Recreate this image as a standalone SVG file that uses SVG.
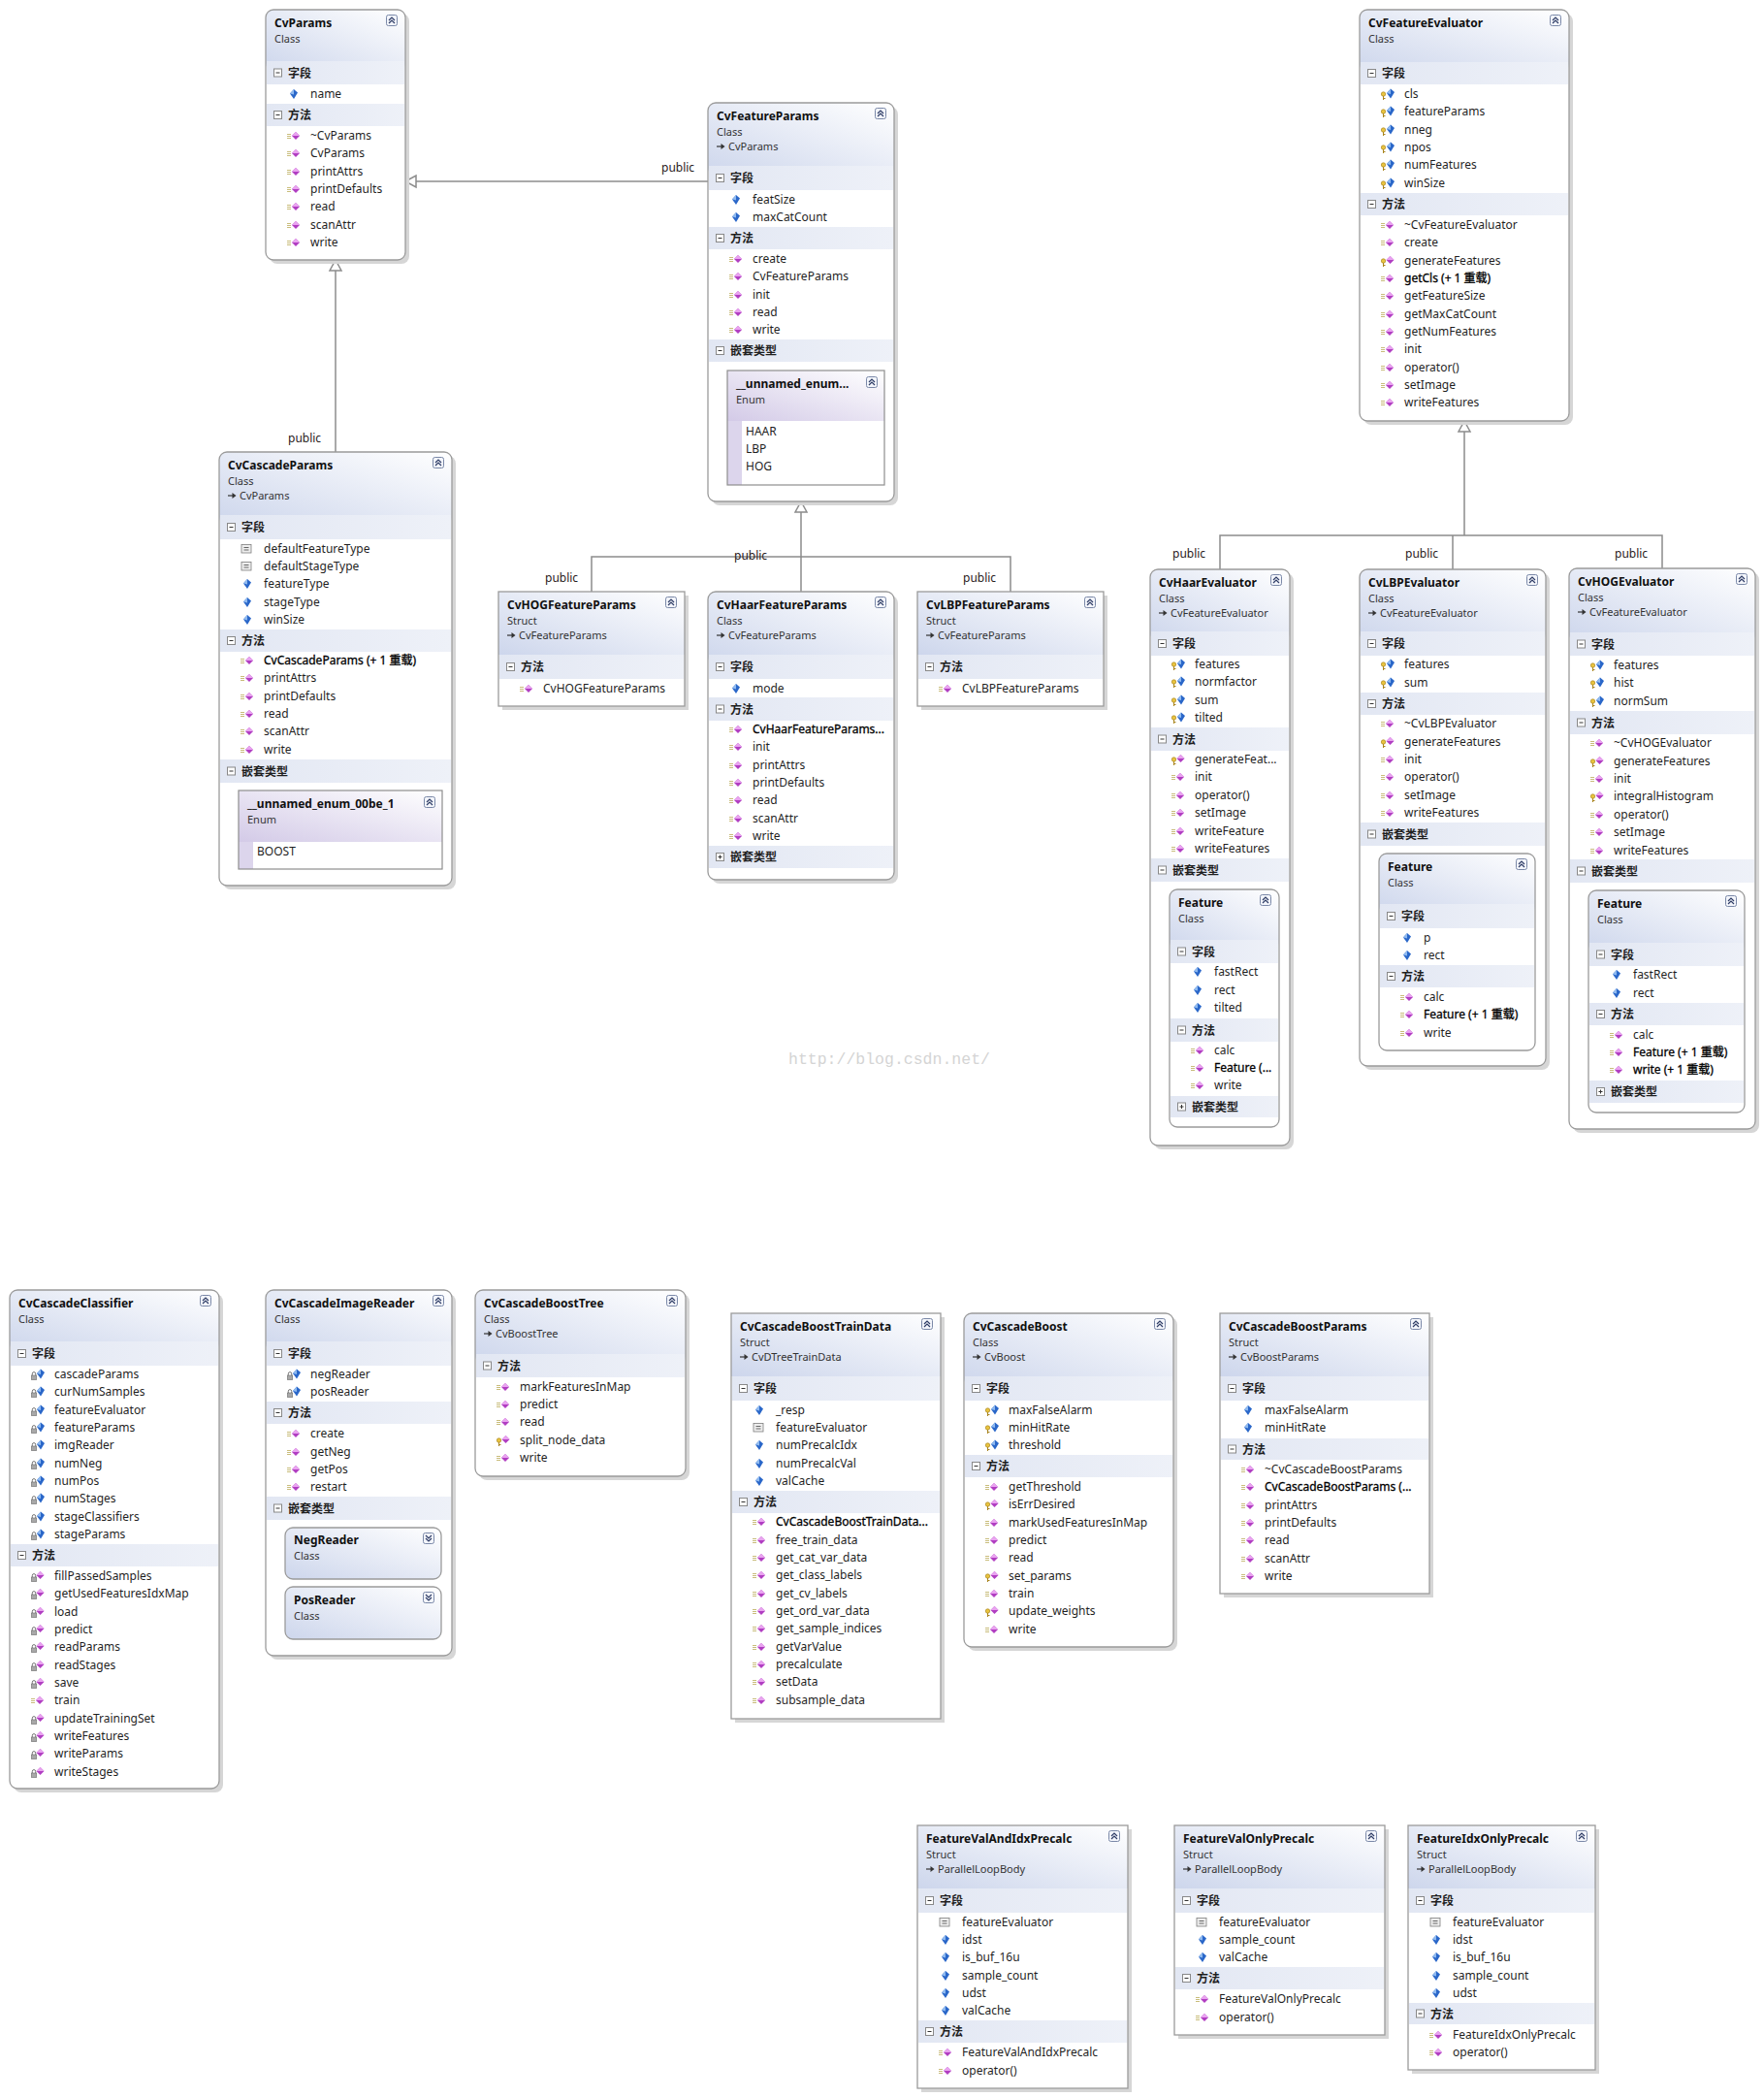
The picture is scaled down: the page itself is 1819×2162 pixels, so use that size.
<svg xmlns="http://www.w3.org/2000/svg" width="1819" height="2162" viewBox="0 0 1819 2162">
<style>
text{font-family:"Noto Sans","Noto Sans CJK SC",sans-serif;font-size:12px;fill:#1f1f1f}
.t{font-weight:bold;fill:#111}
.s{font-size:11px;fill:#333}
.h{font-weight:bold;font-family:"Noto Sans CJK SC","Noto Sans",sans-serif}
.ov{fill:#000;stroke:#000;stroke-width:.3}
.lbl{fill:#2a2020}
.wm{font-family:"Liberation Mono",monospace;font-size:16.5px;fill:#d4d4d4}
.sh{fill:#d6d6d6}
.bg{fill:#fff}
.hd{fill:url(#hg)}
.bd{fill:url(#bdg)}
.bo{fill:none;stroke:#9b9b9b;stroke-width:1.3}
.en{fill:none;stroke:#8e8e8e;stroke-width:1.2}
.eh{fill:url(#eg)}
.es{fill:#dcd5ec}
.cl{fill:url(#hg);stroke:#9b9b9b;stroke-width:1.3}
</style>
<defs>
<linearGradient id="hg" x1="0" y1="1" x2="1" y2="0"><stop offset="0" stop-color="#cdd6ec"/><stop offset="1" stop-color="#ffffff"/></linearGradient>
<linearGradient id="bdg" x1="0" y1="0" x2="1" y2="0"><stop offset="0" stop-color="#e2e7f3"/><stop offset="1" stop-color="#eef1f8"/></linearGradient>
<linearGradient id="eg" x1="0" y1="1" x2="1" y2="0"><stop offset="0" stop-color="#d3cae7"/><stop offset="1" stop-color="#ffffff"/></linearGradient>
<g id="dB"><path d="M0,5 L4,0.5 L8,4 L4,10.5Z" fill="#2a67c9"/><path d="M0,5 L4,0.5 L4,6Z" fill="#8fbaf0"/></g>
<g id="dP"><path d="M0,4.5 L4,0.5 L8,4.5 L4,8.5Z" fill="#b13ec2"/><path d="M0,4.5 L4,0.5 L8,4.5Z" fill="#e9a3f0"/></g>
<g id="key"><circle cx="2.5" cy="4" r="2.2" fill="#e9c43e" stroke="#a9851f" stroke-width=".7"/><path d="M2.5,6 V10 M2.5,8.5 H4.5" stroke="#a9851f" stroke-width="1"/></g>
<g id="lock"><path d="M1.3,5 V3.3 A1.7,1.7 0 0 1 4.7,3.3 V5" fill="none" stroke="#777" stroke-width="1"/><rect x="0.3" y="5" width="5.4" height="4.6" fill="#a8a8a8" stroke="#6e6e6e" stroke-width=".6"/></g>
<g id="lines"><path d="M0,3.5 H4 M0,5.5 H4 M0,7.5 H4" stroke="#c9bd7c" stroke-width="1"/></g>
<g id="fp"><use href="#dB" x="3" y="0.5"/></g>
<g id="fk"><use href="#key" x="0" y="2"/><use href="#dB" x="6" y="0"/></g>
<g id="fl"><use href="#lock" x="0" y="2"/><use href="#dB" x="6" y="0"/></g>
<g id="fc"><rect x="1" y="1.5" width="10" height="8.5" fill="#eeeeee" stroke="#7d7d7d" stroke-width=".8"/><path d="M3.5,4.5 H8.5 M3.5,7 H8.5" stroke="#555" stroke-width=".9"/></g>
<g id="mp"><use href="#lines" y="1"/><use href="#dP" x="5" y="1.5"/></g>
<g id="mk"><use href="#key" y="2"/><use href="#dP" x="5.5" y="0.5"/></g>
<g id="ml"><use href="#lock" y="2"/><use href="#dP" x="5.5" y="0.5"/></g>
<g id="up"><rect x=".5" y=".5" width="11" height="11" rx="2" fill="#f3f5fb" stroke="#7b89a8"/><path d="M3,6 L6,3 L9,6 M3,9 L6,6 L9,9" fill="none" stroke="#2f3d66" stroke-width="1.2"/></g>
<g id="dn"><rect x=".5" y=".5" width="11" height="11" rx="2" fill="#f3f5fb" stroke="#7b89a8"/><path d="M3,3 L6,6 L9,3 M3,6 L6,9 L9,6" fill="none" stroke="#2f3d66" stroke-width="1.2"/></g>
<g id="mi"><rect x=".5" y=".5" width="8" height="8" fill="#fff" stroke="#888"/><path d="M2.5,4.5 H6.5" stroke="#333"/></g>
<g id="pl"><rect x=".5" y=".5" width="8" height="8" fill="#fff" stroke="#888"/><path d="M2.5,4.5 H6.5 M4.5,2.5 V6.5" stroke="#333"/></g>
<g id="ih"><path d="M0,4 H5" stroke="#333" stroke-width="1.2"/><path d="M4.5,1 L8.5,4 L4.5,7Z" fill="#333"/></g>
</defs>
<rect width="1819" height="2162" fill="#fff"/>

<g id="connectors" stroke="#8c8c8c" stroke-width="1.5" fill="none">
<path d="M730,187 H429"/>
<polygon points="418,187 429,181 429,193" fill="#fff"/>
<path d="M346,466 V279"/>
<polygon points="346,268 340,279 352,279" fill="#fff"/>
<path d="M826,610 V528 M610,610 V574 H1042 V610"/>
<polygon points="826,517 820,528 832,528" fill="#fff"/>
<path d="M1510,552 V445 M1258,587 V552 H1714 V586 M1498,552 V587"/>
<polygon points="1510,434 1504,445 1516,445" fill="#fff"/>
</g>
<g id="connector-labels">
<text class="lbl" x="682" y="177">public</text>
<text class="lbl" x="297" y="456">public</text>
<text class="lbl" x="757" y="577">public</text>
<text class="lbl" x="562" y="600">public</text>
<text class="lbl" x="993" y="600">public</text>
<text class="lbl" x="1209" y="575">public</text>
<text class="lbl" x="1449" y="575">public</text>
<text class="lbl" x="1665" y="575">public</text>
</g>

<g id="CvParams">
<rect class="sh" x="278" y="14" width="144" height="258" rx="8"/>
<rect class="bg" x="274" y="10" width="144" height="258" rx="8"/>
<rect class="hd" x="274" y="10" width="144" height="63" rx="8"/>
<rect class="bd" x="275" y="63" width="142" height="24"/><use href="#mi" x="282" y="70.5"/><text class="h" x="297" y="79.5">字段</text>
<use href="#fp" x="296" y="91"/><text x="320" y="101">name</text>
<rect class="bd" x="275" y="107" width="142" height="23"/><use href="#mi" x="282" y="114"/><text class="h" x="297" y="123">方法</text>
<use href="#mp" x="296" y="134"/><text x="320" y="144">~CvParams</text>
<use href="#mp" x="296" y="152"/><text x="320" y="162">CvParams</text>
<use href="#mp" x="296" y="171"/><text x="320" y="181">printAttrs</text>
<use href="#mp" x="296" y="189"/><text x="320" y="199">printDefaults</text>
<use href="#mp" x="296" y="207"/><text x="320" y="217">read</text>
<use href="#mp" x="296" y="226"/><text x="320" y="236">scanAttr</text>
<use href="#mp" x="296" y="244"/><text x="320" y="254">write</text>
<rect class="bo" x="274" y="10" width="144" height="258" rx="8"/>
<use href="#up" x="398" y="15"/>
<text class="t" x="283" y="28">CvParams</text><text class="s" x="283" y="44">Class</text>
</g>

<g id="CvCascadeParams">
<rect class="sh" x="230" y="470" width="240" height="447" rx="8"/>
<rect class="bg" x="226" y="466" width="240" height="447" rx="8"/>
<rect class="hd" x="226" y="466" width="240" height="75" rx="8"/>
<rect class="bd" x="227" y="531" width="238" height="25"/><use href="#mi" x="234" y="539"/><text class="h" x="249" y="548">字段</text>
<use href="#fc" x="248" y="560"/><text x="272" y="570">defaultFeatureType</text>
<use href="#fc" x="248" y="578"/><text x="272" y="588">defaultStageType</text>
<use href="#fp" x="248" y="596"/><text x="272" y="606">featureType</text>
<use href="#fp" x="248" y="615"/><text x="272" y="625">stageType</text>
<use href="#fp" x="248" y="633"/><text x="272" y="643">winSize</text>
<rect class="bd" x="227" y="649" width="238" height="23"/><use href="#mi" x="234" y="656"/><text class="h" x="249" y="665">方法</text>
<use href="#mp" x="248" y="675"/><text class="ov" x="272" y="685">CvCascadeParams (+ 1 重载)</text>
<use href="#mp" x="248" y="693"/><text x="272" y="703">printAttrs</text>
<use href="#mp" x="248" y="712"/><text x="272" y="722">printDefaults</text>
<use href="#mp" x="248" y="730"/><text x="272" y="740">read</text>
<use href="#mp" x="248" y="748"/><text x="272" y="758">scanAttr</text>
<use href="#mp" x="248" y="767"/><text x="272" y="777">write</text>
<rect class="bd" x="227" y="783" width="238" height="24"/><use href="#mi" x="234" y="790.5"/><text class="h" x="249" y="799.5">嵌套类型</text>
<g id="CvCascadeParams-enum">
<rect class="bg" x="246" y="815" width="210" height="81"/>
<rect class="eh" x="246" y="815" width="210" height="53"/>
<rect class="es" x="246" y="868" width="15" height="28"/>
<rect class="en" x="246" y="815" width="210" height="81"/>
<use href="#up" x="437" y="821"/>
<text class="t" x="255" y="833">__unnamed_enum_00be_1</text><text class="s" x="255" y="849">Enum</text>
<text x="265" y="882">BOOST</text>
</g>
<rect class="bo" x="226" y="466" width="240" height="447" rx="8"/>
<use href="#up" x="446" y="471"/>
<text class="t" x="235" y="484">CvCascadeParams</text><text class="s" x="235" y="500">Class</text>
<use href="#ih" x="235" y="507"/><text class="s" x="247" y="515">CvParams</text>
</g>

<g id="CvFeatureParams">
<rect class="sh" x="734" y="110" width="192" height="411" rx="8"/>
<rect class="bg" x="730" y="106" width="192" height="411" rx="8"/>
<rect class="hd" x="730" y="106" width="192" height="75" rx="8"/>
<rect class="bd" x="731" y="171" width="190" height="25"/><use href="#mi" x="738" y="179"/><text class="h" x="753" y="188">字段</text>
<use href="#fp" x="752" y="200"/><text x="776" y="210">featSize</text>
<use href="#fp" x="752" y="218"/><text x="776" y="228">maxCatCount</text>
<rect class="bd" x="731" y="234" width="190" height="23"/><use href="#mi" x="738" y="241"/><text class="h" x="753" y="250">方法</text>
<use href="#mp" x="752" y="261"/><text x="776" y="271">create</text>
<use href="#mp" x="752" y="279"/><text x="776" y="289">CvFeatureParams</text>
<use href="#mp" x="752" y="298"/><text x="776" y="308">init</text>
<use href="#mp" x="752" y="316"/><text x="776" y="326">read</text>
<use href="#mp" x="752" y="334"/><text x="776" y="344">write</text>
<rect class="bd" x="731" y="350" width="190" height="23"/><use href="#mi" x="738" y="357"/><text class="h" x="753" y="366">嵌套类型</text>
<g id="CvFeatureParams-enum">
<rect class="bg" x="750" y="382" width="162" height="118"/>
<rect class="eh" x="750" y="382" width="162" height="52"/>
<rect class="es" x="750" y="434" width="15" height="66"/>
<rect class="en" x="750" y="382" width="162" height="118"/>
<use href="#up" x="893" y="388"/>
<text class="t" x="759" y="400">__unnamed_enum...</text><text class="s" x="759" y="416">Enum</text>
<text x="769" y="449">HAAR</text><text x="769" y="467">LBP</text><text x="769" y="485">HOG</text>
</g>
<rect class="bo" x="730" y="106" width="192" height="411" rx="8"/>
<use href="#up" x="902" y="111"/>
<text class="t" x="739" y="124">CvFeatureParams</text><text class="s" x="739" y="140">Class</text>
<use href="#ih" x="739" y="147"/><text class="s" x="751" y="155">CvParams</text>
</g>

<g id="CvHOGFeatureParams">
<rect class="sh" x="518" y="614" width="192" height="118"/>
<rect class="bg" x="514" y="610" width="192" height="118"/>
<rect class="hd" x="514" y="610" width="192" height="65"/>
<rect class="bd" x="515" y="675" width="190" height="25"/><use href="#mi" x="522" y="683"/><text class="h" x="537" y="692">方法</text>
<use href="#mp" x="536" y="704"/><text x="560" y="714">CvHOGFeatureParams</text>
<rect class="bo" x="514" y="610" width="192" height="118"/>
<use href="#up" x="686" y="615"/>
<text class="t" x="523" y="628">CvHOGFeatureParams</text><text class="s" x="523" y="644">Struct</text>
<use href="#ih" x="523" y="651"/><text class="s" x="535" y="659">CvFeatureParams</text>
</g>

<g id="CvHaarFeatureParams">
<rect class="sh" x="734" y="614" width="192" height="297" rx="8"/>
<rect class="bg" x="730" y="610" width="192" height="297" rx="8"/>
<rect class="hd" x="730" y="610" width="192" height="75" rx="8"/>
<rect class="bd" x="731" y="675" width="190" height="25"/><use href="#mi" x="738" y="683"/><text class="h" x="753" y="692">字段</text>
<use href="#fp" x="752" y="704"/><text x="776" y="714">mode</text>
<rect class="bd" x="731" y="719" width="190" height="24"/><use href="#mi" x="738" y="726.5"/><text class="h" x="753" y="735.5">方法</text>
<use href="#mp" x="752" y="746"/><text class="ov" x="776" y="756">CvHaarFeatureParams...</text>
<use href="#mp" x="752" y="764"/><text x="776" y="774">init</text>
<use href="#mp" x="752" y="783"/><text x="776" y="793">printAttrs</text>
<use href="#mp" x="752" y="801"/><text x="776" y="811">printDefaults</text>
<use href="#mp" x="752" y="819"/><text x="776" y="829">read</text>
<use href="#mp" x="752" y="838"/><text x="776" y="848">scanAttr</text>
<use href="#mp" x="752" y="856"/><text x="776" y="866">write</text>
<rect class="bd" x="731" y="872" width="190" height="23"/><use href="#pl" x="738" y="879"/><text class="h" x="753" y="888">嵌套类型</text>
<rect class="bo" x="730" y="610" width="192" height="297" rx="8"/>
<use href="#up" x="902" y="615"/>
<text class="t" x="739" y="628">CvHaarFeatureParams</text><text class="s" x="739" y="644">Class</text>
<use href="#ih" x="739" y="651"/><text class="s" x="751" y="659">CvFeatureParams</text>
</g>

<g id="CvLBPFeatureParams">
<rect class="sh" x="950" y="614" width="192" height="118"/>
<rect class="bg" x="946" y="610" width="192" height="118"/>
<rect class="hd" x="946" y="610" width="192" height="65"/>
<rect class="bd" x="947" y="675" width="190" height="25"/><use href="#mi" x="954" y="683"/><text class="h" x="969" y="692">方法</text>
<use href="#mp" x="968" y="704"/><text x="992" y="714">CvLBPFeatureParams</text>
<rect class="bo" x="946" y="610" width="192" height="118"/>
<use href="#up" x="1118" y="615"/>
<text class="t" x="955" y="628">CvLBPFeatureParams</text><text class="s" x="955" y="644">Struct</text>
<use href="#ih" x="955" y="651"/><text class="s" x="967" y="659">CvFeatureParams</text>
</g>

<g id="CvFeatureEvaluator">
<rect class="sh" x="1406" y="14" width="216" height="424" rx="8"/>
<rect class="bg" x="1402" y="10" width="216" height="424" rx="8"/>
<rect class="hd" x="1402" y="10" width="216" height="64" rx="8"/>
<rect class="bd" x="1403" y="64" width="214" height="23"/><use href="#mi" x="1410" y="71"/><text class="h" x="1425" y="80">字段</text>
<use href="#fk" x="1424" y="91"/><text x="1448" y="101">cls</text>
<use href="#fk" x="1424" y="109"/><text x="1448" y="119">featureParams</text>
<use href="#fk" x="1424" y="128"/><text x="1448" y="138">nneg</text>
<use href="#fk" x="1424" y="146"/><text x="1448" y="156">npos</text>
<use href="#fk" x="1424" y="164"/><text x="1448" y="174">numFeatures</text>
<use href="#fk" x="1424" y="183"/><text x="1448" y="193">winSize</text>
<rect class="bd" x="1403" y="199" width="214" height="23"/><use href="#mi" x="1410" y="206"/><text class="h" x="1425" y="215">方法</text>
<use href="#mp" x="1424" y="226"/><text x="1448" y="236">~CvFeatureEvaluator</text>
<use href="#mp" x="1424" y="244"/><text x="1448" y="254">create</text>
<use href="#mk" x="1424" y="263"/><text x="1448" y="273">generateFeatures</text>
<use href="#mp" x="1424" y="281"/><text class="ov" x="1448" y="291">getCls (+ 1 重载)</text>
<use href="#mp" x="1424" y="299"/><text x="1448" y="309">getFeatureSize</text>
<use href="#mp" x="1424" y="318"/><text x="1448" y="328">getMaxCatCount</text>
<use href="#mp" x="1424" y="336"/><text x="1448" y="346">getNumFeatures</text>
<use href="#mp" x="1424" y="354"/><text x="1448" y="364">init</text>
<use href="#mp" x="1424" y="373"/><text x="1448" y="383">operator()</text>
<use href="#mp" x="1424" y="391"/><text x="1448" y="401">setImage</text>
<use href="#mp" x="1424" y="409"/><text x="1448" y="419">writeFeatures</text>
<rect class="bo" x="1402" y="10" width="216" height="424" rx="8"/>
<use href="#up" x="1598" y="15"/>
<text class="t" x="1411" y="28">CvFeatureEvaluator</text><text class="s" x="1411" y="44">Class</text>
</g>

<g id="CvHaarEvaluator">
<rect class="sh" x="1190" y="591" width="144" height="594" rx="8"/>
<rect class="bg" x="1186" y="587" width="144" height="594" rx="8"/>
<rect class="hd" x="1186" y="587" width="144" height="74" rx="8"/>
<rect class="bd" x="1187" y="651" width="142" height="25"/><use href="#mi" x="1194" y="659"/><text class="h" x="1209" y="668">字段</text>
<use href="#fk" x="1208" y="679"/><text x="1232" y="689">features</text>
<use href="#fk" x="1208" y="697"/><text x="1232" y="707">normfactor</text>
<use href="#fk" x="1208" y="716"/><text x="1232" y="726">sum</text>
<use href="#fk" x="1208" y="734"/><text x="1232" y="744">tilted</text>
<rect class="bd" x="1187" y="750" width="142" height="24"/><use href="#mi" x="1194" y="757.5"/><text class="h" x="1209" y="766.5">方法</text>
<use href="#mk" x="1208" y="777"/><text x="1232" y="787">generateFeat...</text>
<use href="#mp" x="1208" y="795"/><text x="1232" y="805">init</text>
<use href="#mp" x="1208" y="814"/><text x="1232" y="824">operator()</text>
<use href="#mp" x="1208" y="832"/><text x="1232" y="842">setImage</text>
<use href="#mp" x="1208" y="851"/><text x="1232" y="861">writeFeature</text>
<use href="#mp" x="1208" y="869"/><text x="1232" y="879">writeFeatures</text>
<rect class="bd" x="1187" y="885" width="142" height="24"/><use href="#mi" x="1194" y="892.5"/><text class="h" x="1209" y="901.5">嵌套类型</text>
<g id="CvHaarEvaluator-Feature">
<rect class="bg" x="1206" y="917" width="113" height="245" rx="8"/>
<rect class="hd" x="1206" y="917" width="113" height="62" rx="8"/>
<rect class="bd" x="1207" y="969" width="111" height="24"/><use href="#mi" x="1214" y="976.5"/><text class="h" x="1229" y="985.5">字段</text>
<use href="#fp" x="1228" y="996"/><text x="1252" y="1006">fastRect</text>
<use href="#fp" x="1228" y="1015"/><text x="1252" y="1025">rect</text>
<use href="#fp" x="1228" y="1033"/><text x="1252" y="1043">tilted</text>
<rect class="bd" x="1207" y="1050" width="111" height="24"/><use href="#mi" x="1214" y="1057.5"/><text class="h" x="1229" y="1066.5">方法</text>
<use href="#mp" x="1228" y="1077"/><text x="1252" y="1087">calc</text>
<use href="#mp" x="1228" y="1095"/><text class="ov" x="1252" y="1105">Feature (...</text>
<use href="#mp" x="1228" y="1113"/><text x="1252" y="1123">write</text>
<rect class="bd" x="1207" y="1130" width="111" height="22"/><use href="#pl" x="1214" y="1136.5"/><text class="h" x="1229" y="1145.5">嵌套类型</text>
<rect class="bo" x="1206" y="917" width="113" height="245" rx="8"/>
<use href="#up" x="1299" y="922"/>
<text class="t" x="1215" y="935">Feature</text><text class="s" x="1215" y="951">Class</text>
</g>
<rect class="bo" x="1186" y="587" width="144" height="594" rx="8"/>
<use href="#up" x="1310" y="592"/>
<text class="t" x="1195" y="605">CvHaarEvaluator</text><text class="s" x="1195" y="621">Class</text>
<use href="#ih" x="1195" y="628"/><text class="s" x="1207" y="636">CvFeatureEvaluator</text>
</g>

<g id="CvLBPEvaluator">
<rect class="sh" x="1406" y="591" width="192" height="512" rx="8"/>
<rect class="bg" x="1402" y="587" width="192" height="512" rx="8"/>
<rect class="hd" x="1402" y="587" width="192" height="74" rx="8"/>
<rect class="bd" x="1403" y="651" width="190" height="25"/><use href="#mi" x="1410" y="659"/><text class="h" x="1425" y="668">字段</text>
<use href="#fk" x="1424" y="679"/><text x="1448" y="689">features</text>
<use href="#fk" x="1424" y="698"/><text x="1448" y="708">sum</text>
<rect class="bd" x="1403" y="714" width="190" height="23"/><use href="#mi" x="1410" y="721"/><text class="h" x="1425" y="730">方法</text>
<use href="#mp" x="1424" y="740"/><text x="1448" y="750">~CvLBPEvaluator</text>
<use href="#mk" x="1424" y="759"/><text x="1448" y="769">generateFeatures</text>
<use href="#mp" x="1424" y="777"/><text x="1448" y="787">init</text>
<use href="#mp" x="1424" y="795"/><text x="1448" y="805">operator()</text>
<use href="#mp" x="1424" y="814"/><text x="1448" y="824">setImage</text>
<use href="#mp" x="1424" y="832"/><text x="1448" y="842">writeFeatures</text>
<rect class="bd" x="1403" y="848" width="190" height="24"/><use href="#mi" x="1410" y="855.5"/><text class="h" x="1425" y="864.5">嵌套类型</text>
<g id="CvLBPEvaluator-Feature">
<rect class="bg" x="1422" y="880" width="161" height="203" rx="8"/>
<rect class="hd" x="1422" y="880" width="161" height="62" rx="8"/>
<rect class="bd" x="1423" y="932" width="159" height="25"/><use href="#mi" x="1430" y="940"/><text class="h" x="1445" y="949">字段</text>
<use href="#fp" x="1444" y="961"/><text x="1468" y="971">p</text>
<use href="#fp" x="1444" y="979"/><text x="1468" y="989">rect</text>
<rect class="bd" x="1423" y="995" width="159" height="23"/><use href="#mi" x="1430" y="1002"/><text class="h" x="1445" y="1011">方法</text>
<use href="#mp" x="1444" y="1022"/><text x="1468" y="1032">calc</text>
<use href="#mp" x="1444" y="1040"/><text class="ov" x="1468" y="1050">Feature (+ 1 重载)</text>
<use href="#mp" x="1444" y="1059"/><text x="1468" y="1069">write</text>
<rect class="bo" x="1422" y="880" width="161" height="203" rx="8"/>
<use href="#up" x="1563" y="885"/>
<text class="t" x="1431" y="898">Feature</text><text class="s" x="1431" y="914">Class</text>
</g>
<rect class="bo" x="1402" y="587" width="192" height="512" rx="8"/>
<use href="#up" x="1574" y="592"/>
<text class="t" x="1411" y="605">CvLBPEvaluator</text><text class="s" x="1411" y="621">Class</text>
<use href="#ih" x="1411" y="628"/><text class="s" x="1423" y="636">CvFeatureEvaluator</text>
</g>

<g id="CvHOGEvaluator">
<rect class="sh" x="1622" y="590" width="192" height="578" rx="8"/>
<rect class="bg" x="1618" y="586" width="192" height="578" rx="8"/>
<rect class="hd" x="1618" y="586" width="192" height="76" rx="8"/>
<rect class="bd" x="1619" y="652" width="190" height="24"/><use href="#mi" x="1626" y="659.5"/><text class="h" x="1641" y="668.5">字段</text>
<use href="#fk" x="1640" y="680"/><text x="1664" y="690">features</text>
<use href="#fk" x="1640" y="698"/><text x="1664" y="708">hist</text>
<use href="#fk" x="1640" y="717"/><text x="1664" y="727">normSum</text>
<rect class="bd" x="1619" y="733" width="190" height="24"/><use href="#mi" x="1626" y="740.5"/><text class="h" x="1641" y="749.5">方法</text>
<use href="#mp" x="1640" y="760"/><text x="1664" y="770">~CvHOGEvaluator</text>
<use href="#mk" x="1640" y="779"/><text x="1664" y="789">generateFeatures</text>
<use href="#mp" x="1640" y="797"/><text x="1664" y="807">init</text>
<use href="#mk" x="1640" y="815"/><text x="1664" y="825">integralHistogram</text>
<use href="#mp" x="1640" y="834"/><text x="1664" y="844">operator()</text>
<use href="#mp" x="1640" y="852"/><text x="1664" y="862">setImage</text>
<use href="#mp" x="1640" y="871"/><text x="1664" y="881">writeFeatures</text>
<rect class="bd" x="1619" y="886" width="190" height="24"/><use href="#mi" x="1626" y="893.5"/><text class="h" x="1641" y="902.5">嵌套类型</text>
<g id="CvHOGEvaluator-Feature">
<rect class="bg" x="1638" y="918" width="161" height="229" rx="8"/>
<rect class="hd" x="1638" y="918" width="161" height="64" rx="8"/>
<rect class="bd" x="1639" y="972" width="159" height="24"/><use href="#mi" x="1646" y="979.5"/><text class="h" x="1661" y="988.5">字段</text>
<use href="#fp" x="1660" y="999"/><text x="1684" y="1009">fastRect</text>
<use href="#fp" x="1660" y="1018"/><text x="1684" y="1028">rect</text>
<rect class="bd" x="1639" y="1034" width="159" height="23"/><use href="#mi" x="1646" y="1041"/><text class="h" x="1661" y="1050">方法</text>
<use href="#mp" x="1660" y="1061"/><text x="1684" y="1071">calc</text>
<use href="#mp" x="1660" y="1079"/><text class="ov" x="1684" y="1089">Feature (+ 1 重载)</text>
<use href="#mp" x="1660" y="1097"/><text class="ov" x="1684" y="1107">write (+ 1 重载)</text>
<rect class="bd" x="1639" y="1114" width="159" height="23"/><use href="#pl" x="1646" y="1121"/><text class="h" x="1661" y="1130">嵌套类型</text>
<rect class="bo" x="1638" y="918" width="161" height="229" rx="8"/>
<use href="#up" x="1779" y="923"/>
<text class="t" x="1647" y="936">Feature</text><text class="s" x="1647" y="952">Class</text>
</g>
<rect class="bo" x="1618" y="586" width="192" height="578" rx="8"/>
<use href="#up" x="1790" y="591"/>
<text class="t" x="1627" y="604">CvHOGEvaluator</text><text class="s" x="1627" y="620">Class</text>
<use href="#ih" x="1627" y="627"/><text class="s" x="1639" y="635">CvFeatureEvaluator</text>
</g>

<g id="CvCascadeClassifier">
<rect class="sh" x="14" y="1334" width="216" height="514" rx="8"/>
<rect class="bg" x="10" y="1330" width="216" height="514" rx="8"/>
<rect class="hd" x="10" y="1330" width="216" height="63" rx="8"/>
<rect class="bd" x="11" y="1383" width="214" height="25"/><use href="#mi" x="18" y="1391"/><text class="h" x="33" y="1400">字段</text>
<use href="#fl" x="32" y="1411"/><text x="56" y="1421">cascadeParams</text>
<use href="#fl" x="32" y="1429"/><text x="56" y="1439">curNumSamples</text>
<use href="#fl" x="32" y="1448"/><text x="56" y="1458">featureEvaluator</text>
<use href="#fl" x="32" y="1466"/><text x="56" y="1476">featureParams</text>
<use href="#fl" x="32" y="1484"/><text x="56" y="1494">imgReader</text>
<use href="#fl" x="32" y="1503"/><text x="56" y="1513">numNeg</text>
<use href="#fl" x="32" y="1521"/><text x="56" y="1531">numPos</text>
<use href="#fl" x="32" y="1539"/><text x="56" y="1549">numStages</text>
<use href="#fl" x="32" y="1558"/><text x="56" y="1568">stageClassifiers</text>
<use href="#fl" x="32" y="1576"/><text x="56" y="1586">stageParams</text>
<rect class="bd" x="11" y="1592" width="214" height="23"/><use href="#mi" x="18" y="1599"/><text class="h" x="33" y="1608">方法</text>
<use href="#ml" x="32" y="1619"/><text x="56" y="1629">fillPassedSamples</text>
<use href="#ml" x="32" y="1637"/><text x="56" y="1647">getUsedFeaturesIdxMap</text>
<use href="#ml" x="32" y="1656"/><text x="56" y="1666">load</text>
<use href="#ml" x="32" y="1674"/><text x="56" y="1684">predict</text>
<use href="#ml" x="32" y="1692"/><text x="56" y="1702">readParams</text>
<use href="#ml" x="32" y="1711"/><text x="56" y="1721">readStages</text>
<use href="#ml" x="32" y="1729"/><text x="56" y="1739">save</text>
<use href="#mp" x="32" y="1747"/><text x="56" y="1757">train</text>
<use href="#ml" x="32" y="1766"/><text x="56" y="1776">updateTrainingSet</text>
<use href="#ml" x="32" y="1784"/><text x="56" y="1794">writeFeatures</text>
<use href="#ml" x="32" y="1802"/><text x="56" y="1812">writeParams</text>
<use href="#ml" x="32" y="1821"/><text x="56" y="1831">writeStages</text>
<rect class="bo" x="10" y="1330" width="216" height="514" rx="8"/>
<use href="#up" x="206" y="1335"/>
<text class="t" x="19" y="1348">CvCascadeClassifier</text><text class="s" x="19" y="1364">Class</text>
</g>

<g id="CvCascadeImageReader">
<rect class="sh" x="278" y="1334" width="192" height="377" rx="8"/>
<rect class="bg" x="274" y="1330" width="192" height="377" rx="8"/>
<rect class="hd" x="274" y="1330" width="192" height="63" rx="8"/>
<rect class="bd" x="275" y="1383" width="190" height="25"/><use href="#mi" x="282" y="1391"/><text class="h" x="297" y="1400">字段</text>
<use href="#fl" x="296" y="1411"/><text x="320" y="1421">negReader</text>
<use href="#fl" x="296" y="1429"/><text x="320" y="1439">posReader</text>
<rect class="bd" x="275" y="1445" width="190" height="23"/><use href="#mi" x="282" y="1452"/><text class="h" x="297" y="1461">方法</text>
<use href="#mp" x="296" y="1472"/><text x="320" y="1482">create</text>
<use href="#mp" x="296" y="1491"/><text x="320" y="1501">getNeg</text>
<use href="#mp" x="296" y="1509"/><text x="320" y="1519">getPos</text>
<use href="#mp" x="296" y="1527"/><text x="320" y="1537">restart</text>
<rect class="bd" x="275" y="1543" width="190" height="24"/><use href="#mi" x="282" y="1550.5"/><text class="h" x="297" y="1559.5">嵌套类型</text>
<g id="NegReader">
<rect class="cl" x="294" y="1575" width="161" height="53" rx="8"/>
<use href="#dn" x="436" y="1580"/>
<text class="t" x="303" y="1592">NegReader</text><text class="s" x="303" y="1608">Class</text>
</g>
<g id="PosReader">
<rect class="cl" x="294" y="1636" width="161" height="54" rx="8"/>
<use href="#dn" x="436" y="1641"/>
<text class="t" x="303" y="1654">PosReader</text><text class="s" x="303" y="1670">Class</text>
</g>
<rect class="bo" x="274" y="1330" width="192" height="377" rx="8"/>
<use href="#up" x="446" y="1335"/>
<text class="t" x="283" y="1348">CvCascadeImageReader</text><text class="s" x="283" y="1364">Class</text>
</g>

<g id="CvCascadeBoostTree">
<rect class="sh" x="494" y="1334" width="217" height="192" rx="8"/>
<rect class="bg" x="490" y="1330" width="217" height="192" rx="8"/>
<rect class="hd" x="490" y="1330" width="217" height="76" rx="8"/>
<rect class="bd" x="491" y="1396" width="215" height="24"/><use href="#mi" x="498" y="1403.5"/><text class="h" x="513" y="1412.5">方法</text>
<use href="#mp" x="512" y="1424"/><text x="536" y="1434">markFeaturesInMap</text>
<use href="#mp" x="512" y="1442"/><text x="536" y="1452">predict</text>
<use href="#mp" x="512" y="1460"/><text x="536" y="1470">read</text>
<use href="#mk" x="512" y="1479"/><text x="536" y="1489">split_node_data</text>
<use href="#mp" x="512" y="1497"/><text x="536" y="1507">write</text>
<rect class="bo" x="490" y="1330" width="217" height="192" rx="8"/>
<use href="#up" x="687" y="1335"/>
<text class="t" x="499" y="1348">CvCascadeBoostTree</text><text class="s" x="499" y="1364">Class</text>
<use href="#ih" x="499" y="1371"/><text class="s" x="511" y="1379">CvBoostTree</text>
</g>

<g id="CvCascadeBoostTrainData">
<rect class="sh" x="758" y="1358" width="216" height="418"/>
<rect class="bg" x="754" y="1354" width="216" height="418"/>
<rect class="hd" x="754" y="1354" width="216" height="65"/>
<rect class="bd" x="755" y="1419" width="214" height="25"/><use href="#mi" x="762" y="1427"/><text class="h" x="777" y="1436">字段</text>
<use href="#fp" x="776" y="1448"/><text x="800" y="1458">_resp</text>
<use href="#fc" x="776" y="1466"/><text x="800" y="1476">featureEvaluator</text>
<use href="#fp" x="776" y="1484"/><text x="800" y="1494">numPrecalcIdx</text>
<use href="#fp" x="776" y="1503"/><text x="800" y="1513">numPrecalcVal</text>
<use href="#fp" x="776" y="1521"/><text x="800" y="1531">valCache</text>
<rect class="bd" x="755" y="1537" width="214" height="23"/><use href="#mi" x="762" y="1544"/><text class="h" x="777" y="1553">方法</text>
<use href="#mp" x="776" y="1563"/><text class="ov" x="800" y="1573">CvCascadeBoostTrainData...</text>
<use href="#mp" x="776" y="1582"/><text x="800" y="1592">free_train_data</text>
<use href="#mp" x="776" y="1600"/><text x="800" y="1610">get_cat_var_data</text>
<use href="#mp" x="776" y="1618"/><text x="800" y="1628">get_class_labels</text>
<use href="#mp" x="776" y="1637"/><text x="800" y="1647">get_cv_labels</text>
<use href="#mp" x="776" y="1655"/><text x="800" y="1665">get_ord_var_data</text>
<use href="#mp" x="776" y="1673"/><text x="800" y="1683">get_sample_indices</text>
<use href="#mp" x="776" y="1692"/><text x="800" y="1702">getVarValue</text>
<use href="#mp" x="776" y="1710"/><text x="800" y="1720">precalculate</text>
<use href="#mp" x="776" y="1728"/><text x="800" y="1738">setData</text>
<use href="#mp" x="776" y="1747"/><text x="800" y="1757">subsample_data</text>
<rect class="bo" x="754" y="1354" width="216" height="418"/>
<use href="#up" x="950" y="1359"/>
<text class="t" x="763" y="1372">CvCascadeBoostTrainData</text><text class="s" x="763" y="1388">Struct</text>
<use href="#ih" x="763" y="1395"/><text class="s" x="775" y="1403">CvDTreeTrainData</text>
</g>

<g id="CvCascadeBoost">
<rect class="sh" x="998" y="1358" width="216" height="344" rx="8"/>
<rect class="bg" x="994" y="1354" width="216" height="344" rx="8"/>
<rect class="hd" x="994" y="1354" width="216" height="75" rx="8"/>
<rect class="bd" x="995" y="1419" width="214" height="25"/><use href="#mi" x="1002" y="1427"/><text class="h" x="1017" y="1436">字段</text>
<use href="#fk" x="1016" y="1448"/><text x="1040" y="1458">maxFalseAlarm</text>
<use href="#fk" x="1016" y="1466"/><text x="1040" y="1476">minHitRate</text>
<use href="#fk" x="1016" y="1484"/><text x="1040" y="1494">threshold</text>
<rect class="bd" x="995" y="1500" width="214" height="23"/><use href="#mi" x="1002" y="1507"/><text class="h" x="1017" y="1516">方法</text>
<use href="#mp" x="1016" y="1527"/><text x="1040" y="1537">getThreshold</text>
<use href="#mk" x="1016" y="1545"/><text x="1040" y="1555">isErrDesired</text>
<use href="#mp" x="1016" y="1564"/><text x="1040" y="1574">markUsedFeaturesInMap</text>
<use href="#mp" x="1016" y="1582"/><text x="1040" y="1592">predict</text>
<use href="#mp" x="1016" y="1600"/><text x="1040" y="1610">read</text>
<use href="#mk" x="1016" y="1619"/><text x="1040" y="1629">set_params</text>
<use href="#mp" x="1016" y="1637"/><text x="1040" y="1647">train</text>
<use href="#mk" x="1016" y="1655"/><text x="1040" y="1665">update_weights</text>
<use href="#mp" x="1016" y="1674"/><text x="1040" y="1684">write</text>
<rect class="bo" x="994" y="1354" width="216" height="344" rx="8"/>
<use href="#up" x="1190" y="1359"/>
<text class="t" x="1003" y="1372">CvCascadeBoost</text><text class="s" x="1003" y="1388">Class</text>
<use href="#ih" x="1003" y="1395"/><text class="s" x="1015" y="1403">CvBoost</text>
</g>

<g id="CvCascadeBoostParams">
<rect class="sh" x="1262" y="1358" width="216" height="289"/>
<rect class="bg" x="1258" y="1354" width="216" height="289"/>
<rect class="hd" x="1258" y="1354" width="216" height="65"/>
<rect class="bd" x="1259" y="1419" width="214" height="25"/><use href="#mi" x="1266" y="1427"/><text class="h" x="1281" y="1436">字段</text>
<use href="#fp" x="1280" y="1448"/><text x="1304" y="1458">maxFalseAlarm</text>
<use href="#fp" x="1280" y="1466"/><text x="1304" y="1476">minHitRate</text>
<rect class="bd" x="1259" y="1483" width="214" height="22"/><use href="#mi" x="1266" y="1489.5"/><text class="h" x="1281" y="1498.5">方法</text>
<use href="#mp" x="1280" y="1509"/><text x="1304" y="1519">~CvCascadeBoostParams</text>
<use href="#mp" x="1280" y="1527"/><text class="ov" x="1304" y="1537">CvCascadeBoostParams (...</text>
<use href="#mp" x="1280" y="1546"/><text x="1304" y="1556">printAttrs</text>
<use href="#mp" x="1280" y="1564"/><text x="1304" y="1574">printDefaults</text>
<use href="#mp" x="1280" y="1582"/><text x="1304" y="1592">read</text>
<use href="#mp" x="1280" y="1601"/><text x="1304" y="1611">scanAttr</text>
<use href="#mp" x="1280" y="1619"/><text x="1304" y="1629">write</text>
<rect class="bo" x="1258" y="1354" width="216" height="289"/>
<use href="#up" x="1454" y="1359"/>
<text class="t" x="1267" y="1372">CvCascadeBoostParams</text><text class="s" x="1267" y="1388">Struct</text>
<use href="#ih" x="1267" y="1395"/><text class="s" x="1279" y="1403">CvBoostParams</text>
</g>

<g id="FeatureValAndIdxPrecalc">
<rect class="sh" x="950" y="1886" width="217" height="271"/>
<rect class="bg" x="946" y="1882" width="217" height="271"/>
<rect class="hd" x="946" y="1882" width="217" height="65"/>
<rect class="bd" x="947" y="1947" width="215" height="25"/><use href="#mi" x="954" y="1955"/><text class="h" x="969" y="1964">字段</text>
<use href="#fc" x="968" y="1976"/><text x="992" y="1986">featureEvaluator</text>
<use href="#fp" x="968" y="1994"/><text x="992" y="2004">idst</text>
<use href="#fp" x="968" y="2012"/><text x="992" y="2022">is_buf_16u</text>
<use href="#fp" x="968" y="2031"/><text x="992" y="2041">sample_count</text>
<use href="#fp" x="968" y="2049"/><text x="992" y="2059">udst</text>
<use href="#fp" x="968" y="2067"/><text x="992" y="2077">valCache</text>
<rect class="bd" x="947" y="2083" width="215" height="23"/><use href="#mi" x="954" y="2090"/><text class="h" x="969" y="2099">方法</text>
<use href="#mp" x="968" y="2110"/><text x="992" y="2120">FeatureValAndIdxPrecalc</text>
<use href="#mp" x="968" y="2129"/><text x="992" y="2139">operator()</text>
<rect class="bo" x="946" y="1882" width="217" height="271"/>
<use href="#up" x="1143" y="1887"/>
<text class="t" x="955" y="1900">FeatureValAndIdxPrecalc</text><text class="s" x="955" y="1916">Struct</text>
<use href="#ih" x="955" y="1923"/><text class="s" x="967" y="1931">ParallelLoopBody</text>
</g>

<g id="FeatureValOnlyPrecalc">
<rect class="sh" x="1215" y="1886" width="217" height="216"/>
<rect class="bg" x="1211" y="1882" width="217" height="216"/>
<rect class="hd" x="1211" y="1882" width="217" height="65"/>
<rect class="bd" x="1212" y="1947" width="215" height="25"/><use href="#mi" x="1219" y="1955"/><text class="h" x="1234" y="1964">字段</text>
<use href="#fc" x="1233" y="1976"/><text x="1257" y="1986">featureEvaluator</text>
<use href="#fp" x="1233" y="1994"/><text x="1257" y="2004">sample_count</text>
<use href="#fp" x="1233" y="2012"/><text x="1257" y="2022">valCache</text>
<rect class="bd" x="1212" y="2028" width="215" height="23"/><use href="#mi" x="1219" y="2035"/><text class="h" x="1234" y="2044">方法</text>
<use href="#mp" x="1233" y="2055"/><text x="1257" y="2065">FeatureValOnlyPrecalc</text>
<use href="#mp" x="1233" y="2074"/><text x="1257" y="2084">operator()</text>
<rect class="bo" x="1211" y="1882" width="217" height="216"/>
<use href="#up" x="1408" y="1887"/>
<text class="t" x="1220" y="1900">FeatureValOnlyPrecalc</text><text class="s" x="1220" y="1916">Struct</text>
<use href="#ih" x="1220" y="1923"/><text class="s" x="1232" y="1931">ParallelLoopBody</text>
</g>

<g id="FeatureIdxOnlyPrecalc">
<rect class="sh" x="1456" y="1886" width="193" height="252"/>
<rect class="bg" x="1452" y="1882" width="193" height="252"/>
<rect class="hd" x="1452" y="1882" width="193" height="65"/>
<rect class="bd" x="1453" y="1947" width="191" height="25"/><use href="#mi" x="1460" y="1955"/><text class="h" x="1475" y="1964">字段</text>
<use href="#fc" x="1474" y="1976"/><text x="1498" y="1986">featureEvaluator</text>
<use href="#fp" x="1474" y="1994"/><text x="1498" y="2004">idst</text>
<use href="#fp" x="1474" y="2012"/><text x="1498" y="2022">is_buf_16u</text>
<use href="#fp" x="1474" y="2031"/><text x="1498" y="2041">sample_count</text>
<use href="#fp" x="1474" y="2049"/><text x="1498" y="2059">udst</text>
<rect class="bd" x="1453" y="2065" width="191" height="22"/><use href="#mi" x="1460" y="2071.5"/><text class="h" x="1475" y="2080.5">方法</text>
<use href="#mp" x="1474" y="2092"/><text x="1498" y="2102">FeatureIdxOnlyPrecalc</text>
<use href="#mp" x="1474" y="2110"/><text x="1498" y="2120">operator()</text>
<rect class="bo" x="1452" y="1882" width="193" height="252"/>
<use href="#up" x="1625" y="1887"/>
<text class="t" x="1461" y="1900">FeatureIdxOnlyPrecalc</text><text class="s" x="1461" y="1916">Struct</text>
<use href="#ih" x="1461" y="1923"/><text class="s" x="1473" y="1931">ParallelLoopBody</text>
</g>

<text class="wm" x="813" y="1097">http://blog.csdn.net/</text>
</svg>
